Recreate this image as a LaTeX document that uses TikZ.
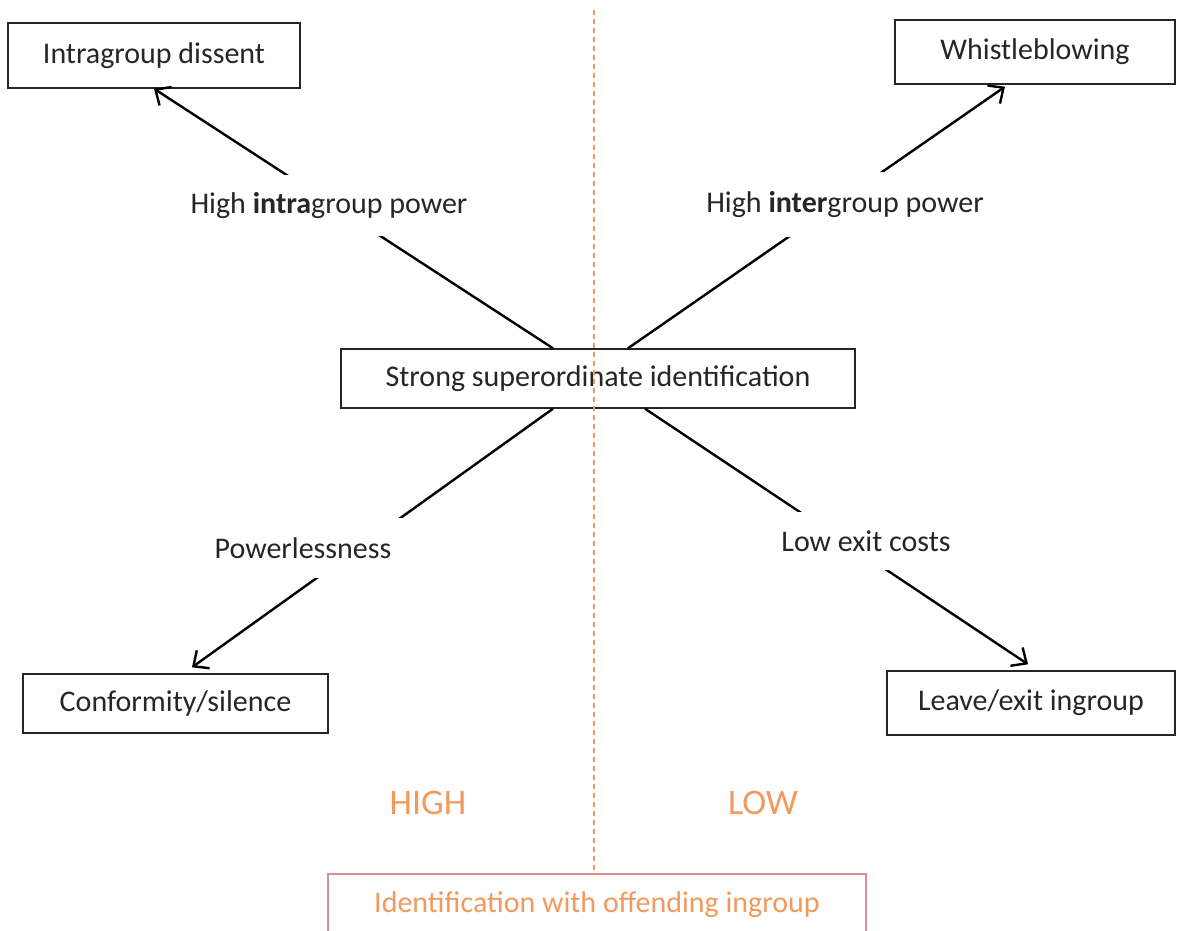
\documentclass[tikz,border=0pt]{standalone}
\usepackage{fontspec}
\setmainfont{Carlito}
\usetikzlibrary{arrows.meta,calc}
\definecolor{orng}{HTML}{F29A5E}
\definecolor{pinkb}{HTML}{DC8E8E}
\definecolor{ink}{HTML}{262626}
\begin{document}
\begin{tikzpicture}[x=1pt,y=-1pt,
  font=\fontsize{30}{35}\selectfont, text=ink,
  box/.style={draw=ink, line width=1.4pt, fill=white, inner sep=0pt},
  lbl/.style={fill=white, inner sep=0pt},
  conn/.style={draw=black, line width=2.4pt, -{Straight Barb[length=12pt,width=22pt]}},
  divider/.style={draw=orng, line width=1.5pt, dash pattern=on 5pt off 4pt}]
\useasboundingbox[fill=white] (0,0) rectangle (1195,931);
\clip (0,0) rectangle (1195,931);
% boxes
\node[box, minimum width=292pt, minimum height=65pt] (intra) at (154,55.5) {Intragroup dissent};
\node[box, minimum width=280pt, minimum height=64pt] (wb) at (1035,52) {Whistleblowing};
\node[box, minimum width=514pt, minimum height=59pt] (s) at (598,378.5) {Strong superordinate identification};
\node[box, minimum width=305pt, minimum height=59pt] (conf) at (175.5,703.5) {Conformity/silence};
\node[box, minimum width=288pt, minimum height=64pt] (leave) at (1031,703) {Leave/exit ingroup};
% connectors
\draw[conn] ($(s.north)+(-45,0)$) -- (intra.south);
\draw[conn] ($(s.north)+(30,0)$) -- ($(wb.south)+(-30,2)$);
\draw[conn] ($(s.south)+(-45,0)$) -- ($(conf.north)+(16.5,-6)$);
\draw[conn] ($(s.south)+(47,0)$) -- ($(leave.north)+(-3,-6)$);
% labels covering the connectors
\node[lbl, minimum width=290pt, minimum height=61pt] (l1) at (329,205.5) {High \textbf{intra}group power};
\node[lbl, minimum width=290pt, minimum height=65pt] (l2) at (845,204.5) {High \textbf{inter}group power};
\node[lbl, minimum width=200pt, minimum height=60pt] (l3) at (303,548) {Powerlessness};
\node[lbl, minimum width=180pt, minimum height=58pt] (l4) at (866,541) {Low exit costs};
% bottom axis
\node[draw=pinkb, line width=1.4pt, minimum width=538pt, minimum height=62pt, inner sep=0pt, text=orng] (bot) at (597,905) {Identification with offending ingroup};
\coordinate (dtop) at (594,10);
\draw[divider] (dtop) -- (dtop |- bot.north);
\node[text=orng, font=\fontsize{36}{42}\selectfont] (high) at (428,803) {HIGH};
\node[text=orng, font=\fontsize{36}{42}\selectfont] (low) at (763,803) {LOW};
\end{tikzpicture}
\end{document}
